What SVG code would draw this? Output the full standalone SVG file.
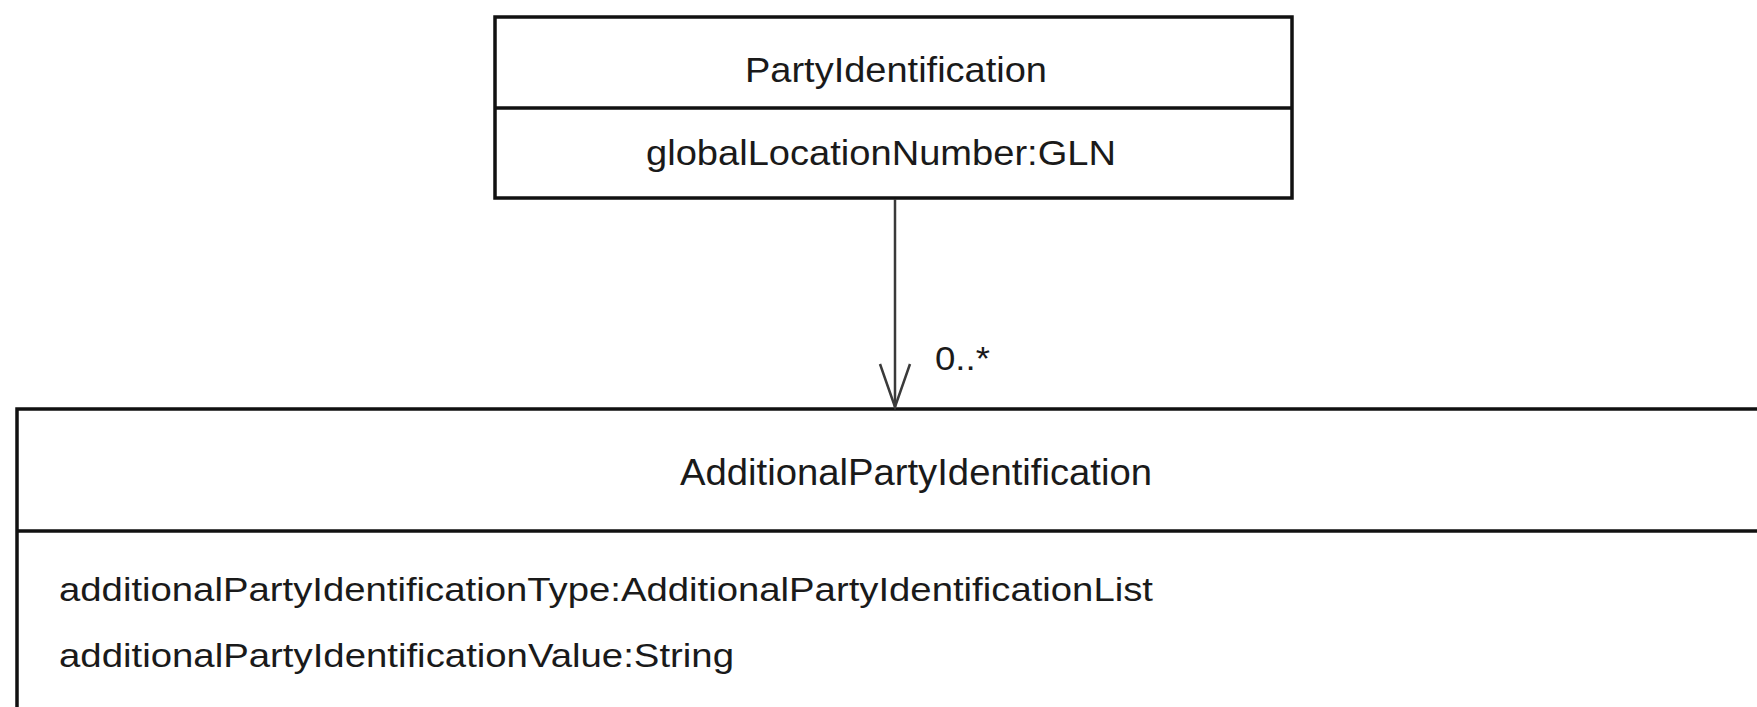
<svg xmlns="http://www.w3.org/2000/svg" width="1757" height="707" viewBox="0 0 1757 707">
  <style>
    .box { fill: #ffffff; stroke: #111111; stroke-width: 3.5; }
    .div { stroke: #111111; stroke-width: 3.5; }
    .t { font-family: "Liberation Sans", Arial, sans-serif; fill: #1a1a1a; }
    .conn { stroke: #3a3a3a; stroke-width: 2.5; fill: none; }
  </style>
  <defs>
    <marker id="openArrow" markerUnits="userSpaceOnUse" markerWidth="40" markerHeight="56" viewBox="-20 -50 40 56" refX="0" refY="0" orient="auto-start-reverse">
      <path d="M -15 -44 L 0 0 L 15 -44" fill="none" stroke="#3a3a3a" stroke-width="2.5" transform="rotate(-90)"/>
    </marker>
  </defs>
  <rect width="1757" height="707" fill="#ffffff"/>

  <g id="PartyIdentification">
    <rect class="box" x="495" y="17" width="797" height="181"/>
    <line class="div" x1="495" y1="108" x2="1292" y2="108"/>
    <text class="t" x="745" y="82" font-size="35" textLength="302" lengthAdjust="spacingAndGlyphs">PartyIdentification</text>
    <text class="t" x="646" y="165" font-size="35" textLength="470" lengthAdjust="spacingAndGlyphs">globalLocationNumber:GLN</text>
  </g>

  <g id="AdditionalPartyIdentification">
    <rect class="box" x="17" y="409" width="1800" height="360"/>
    <line class="div" x1="17" y1="531" x2="1817" y2="531"/>
    <text class="t" x="680" y="485" font-size="36" textLength="472" lengthAdjust="spacingAndGlyphs">AdditionalPartyIdentification</text>
    <text class="t" x="59" y="601" font-size="33" textLength="1094" lengthAdjust="spacingAndGlyphs">additionalPartyIdentificationType:AdditionalPartyIdentificationList</text>
    <text class="t" x="59" y="667" font-size="33" textLength="675" lengthAdjust="spacingAndGlyphs">additionalPartyIdentificationValue:String</text>
  </g>

  <g id="connectors">
    <line class="conn" x1="895" y1="199" x2="895" y2="407"/>
    <path class="conn" d="M 880 364 L 895 407 L 910 364"/>
    <text class="t" x="935" y="370" font-size="34" textLength="55" lengthAdjust="spacingAndGlyphs">0..*</text>
  </g>
</svg>
